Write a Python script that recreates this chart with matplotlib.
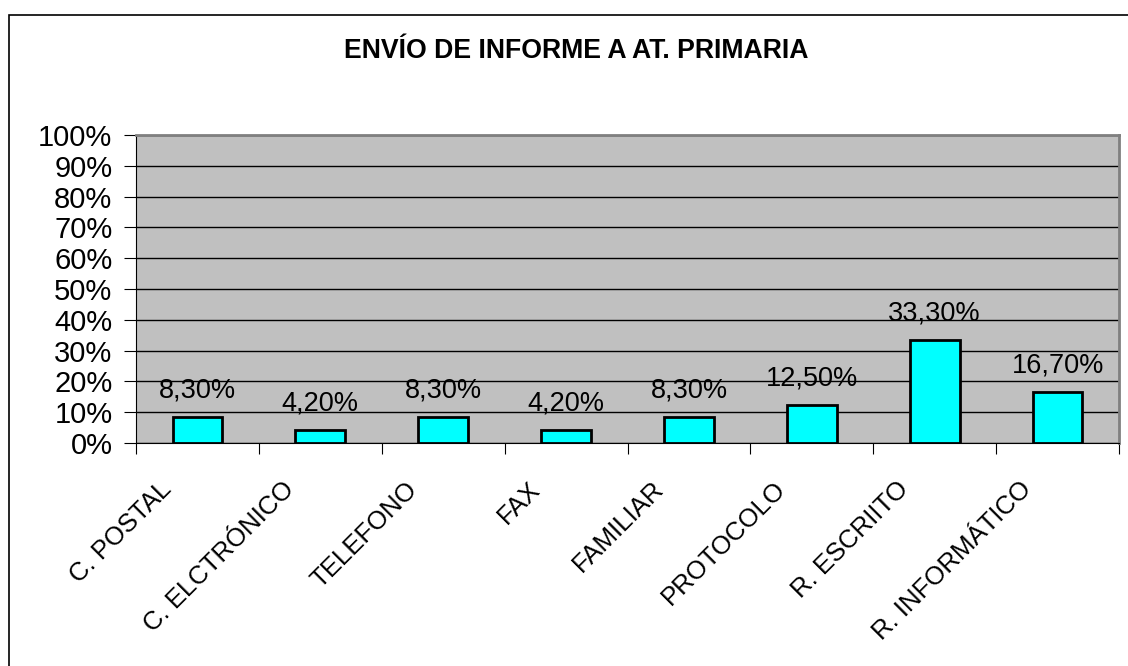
import numpy as np
import matplotlib.pyplot as plt
import matplotlib.transforms as mtransforms
from matplotlib.patches import Rectangle
from matplotlib.ticker import FuncFormatter, MultipleLocator

plt.rcParams["font.family"] = ["Liberation Sans", "DejaVu Sans"]

# --- DATA ---
categorias = ["C. POSTAL", "C. ELCTRÓNICO", "TELEFONO", "FAX", "FAMILIAR",
              "PROTOCOLO", "R. ESCRIITO", "R. INFORMÁTICO"]
valores = [8.3, 4.2, 8.3, 4.2, 8.3, 12.5, 33.3, 16.7]
etiquetas = ["8,30%", "4,20%", "8,30%", "4,20%", "8,30%", "12,50%", "33,30%", "16,70%"]
titulo = "ENVÍO DE INFORME A AT. PRIMARIA"

fig = plt.figure(figsize=(11.28, 6.66), dpi=100)
ax = fig.add_axes([136 / 1128, 1 - 443 / 666, 983 / 1128, 308 / 666])

# outer chart border
fig.patches.append(Rectangle((9 / 1128, -0.1), 1.2, 1.1 - 15 / 666,
                             transform=fig.transFigure, fill=False,
                             edgecolor="black", linewidth=1.2))

x = np.arange(len(categorias))
ax.set_facecolor("#C0C0C0")
ax.bar(x, valores, width=0.405, color="#00FFFF", edgecolor="black",
       linewidth=2, zorder=3)

for xi, v, lab in zip(x, valores, etiquetas):
    ax.annotate(lab, (xi, v), xytext=(0, 14), textcoords="offset points",
                ha="center", va="baseline", fontsize=19.5, zorder=4)

ax.set_xlim(-0.5, len(categorias) - 0.5)
ax.set_ylim(0, 100)
ax.yaxis.set_major_locator(MultipleLocator(10))
ax.yaxis.set_major_formatter(FuncFormatter(lambda v, p: f"{v:.0f}%"))
ax.grid(axis="y", color="black", linewidth=1, zorder=1)

ax.set_xticks(np.arange(len(categorias) + 1) - 0.5)
ax.set_xticklabels([])
ax.tick_params(axis="x", length=8, color="black", direction="out")
ax.tick_params(axis="y", length=9, labelsize=21, pad=8)

# rotated category labels, placed like the spreadsheet does
trans = ax.get_xaxis_transform() + mtransforms.ScaledTranslation(
    -0.38, -0.34, fig.dpi_scale_trans)
for xi, cat in zip(x, categorias):
    ax.text(xi, 0, cat, transform=trans, rotation=45, ha="right", va="top",
            rotation_mode="anchor", fontsize=18.5, clip_on=False)

for s in ["top", "right"]:
    ax.spines[s].set_color("#808080")
    ax.spines[s].set_linewidth(2)
ax.spines["left"].set_color("black")
ax.spines["bottom"].set_color("black")

fig.text(576 / 1128, 1 - 51 / 666, titulo, ha="center", va="center",
         fontsize=19.2, fontweight="bold")

fig.savefig("out.png", dpi=100)
